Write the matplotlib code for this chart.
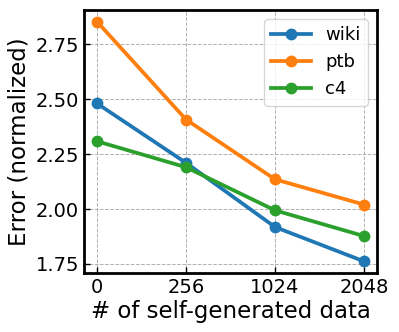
import matplotlib
matplotlib.use("Agg")
import matplotlib.pyplot as plt

x_labels = ["0", "256", "1024", "2048"]
wiki = [2.48, 2.21, 1.918, 1.762]
ptb = [2.852, 2.407, 2.135, 2.02]
c4 = [2.308, 2.19, 1.994, 1.877]
y_ticks = [1.75, 2.00, 2.25, 2.50, 2.75]

fig = plt.figure(figsize=(3.99, 3.32), dpi=100)
ax = fig.add_axes([84/399, 1 - 273/332, (377-84)/399, (273-10)/332])
xs = range(len(x_labels))
for name, vals, col in [("wiki", wiki, "#1f77b4"), ("ptb", ptb, "#ff7f0e"), ("c4", c4, "#2ca02c")]:
    ax.plot(xs, vals, marker="o", color=col, linewidth=2.7, markersize=7.5, label=name)
ax.set_xticks(list(xs))
ax.set_xticklabels(x_labels)
ax.set_yticks(y_ticks)
ax.set_yticklabels([f"{v:.2f}" for v in y_ticks])
ax.set_ylim(1.709, 2.905)
ax.set_xlim(-0.146, 3.146)
ax.tick_params(direction="in", labelsize=14, width=1, length=4)
ax.grid(True, linestyle="--", color="#b0b0b0", linewidth=0.7)
for s in ax.spines.values():
    s.set_linewidth(2)
ax.set_xlabel("# of self-generated data", fontsize=16.5, labelpad=2)
ax.set_ylabel("Error (normalized)", fontsize=16.5, labelpad=4)
ax.legend(loc="upper right", fontsize=13, handlelength=2.2)
fig.savefig("out.png", dpi=100)
